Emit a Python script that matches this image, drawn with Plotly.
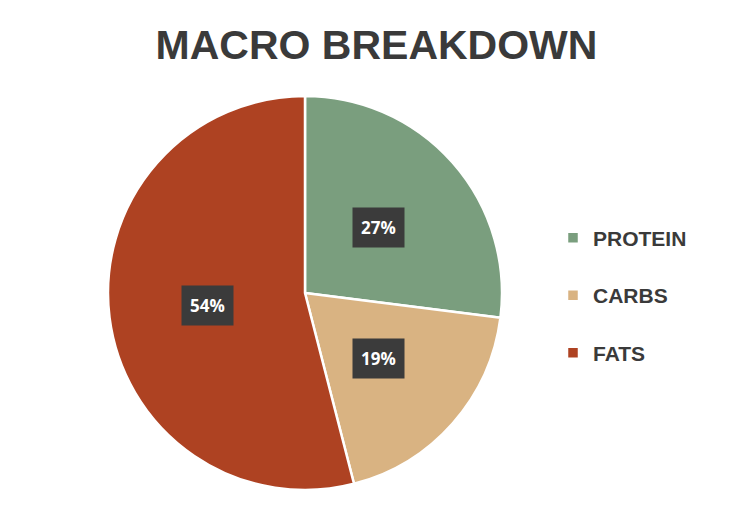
import math
import plotly.graph_objects as go

# macro split
macros = ["PROTEIN", "CARBS", "FATS"]
shares = [27, 19, 54]
colors = ["#7A9E7E", "#D9B382", "#AE4222"]

W, H = 753, 515
OFF = 8  # page body margin pushes the figure 8px right/down
# pie box in screen pixels (left, right, top, bottom)
px_l, px_r, px_t, px_b = 108 - OFF, 502 - OFF, 96 - OFF, 490 - OFF

fig = go.Figure(
    go.Pie(
        # blank second line spreads the legend entries apart
        labels=[m + "<br> " for m in macros],
        values=shares,
        sort=False,
        direction="clockwise",
        rotation=0,
        marker=dict(colors=colors, line=dict(color="white", width=2.5)),
        textinfo="none",
        hoverinfo="skip",
        domain=dict(x=[px_l / W, px_r / W], y=[1 - px_b / H, 1 - px_t / H]),
    )
)

# percentage boxes, placed halfway out along each slice's middle angle
cx = (px_l + px_r) / 2
cy = (px_t + px_b) / 2
r = (px_r - px_l) / 2
total = sum(shares)
start = 0
for s in shares:
    mid = (start + s / 2) / total * 2 * math.pi
    start += s
    x = cx + 0.5 * r * math.sin(mid)
    y = cy - 0.5 * r * math.cos(mid)
    fig.add_annotation(
        x=x / W,
        y=1 - y / H,
        xref="paper",
        yref="paper",
        xanchor="center",
        yanchor="middle",
        text="%d%%" % round(s / total * 100),
        showarrow=False,
        bgcolor="#3B3B3B",
        borderpad=8,
        font=dict(family="Open Sans", size=17, color="white", weight="bold"),
    )

fig.update_layout(
    width=W,
    height=H,
    margin=dict(l=0, r=0, t=0, b=0),
    paper_bgcolor="white",
    plot_bgcolor="white",
    title=dict(
        text="MACRO BREAKDOWN",
        x=(376.5 - OFF) / W,
        xanchor="center",
        y=1 - (45 - OFF) / H,
        yanchor="middle",
        font=dict(family="Liberation Sans", size=41, color="#3A3A3A", weight="bold"),
    ),
    legend=dict(
        x=(553 - OFF) / W,
        xanchor="left",
        y=1 - (309 - OFF) / H,
        yanchor="middle",
        valign="top",
        font=dict(family="Liberation Sans", size=21, color="#3A3A3A", weight="bold"),
        traceorder="normal",
    ),
)

fig.write_html("out.html")
